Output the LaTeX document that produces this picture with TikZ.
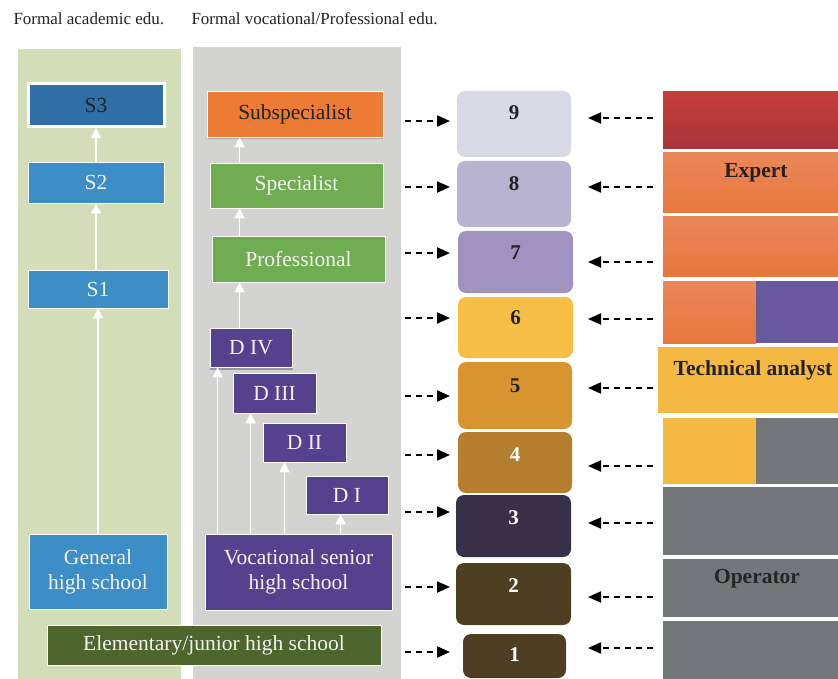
\documentclass[tikz,border=0pt]{standalone}
\usepackage{fontspec}
\setmainfont{Liberation Serif}
\usetikzlibrary{arrows.meta,calc}
\definecolor{panelgreen}{HTML}{D3DDB7}
\definecolor{panelgray}{HTML}{D3D4D2}
\definecolor{sblue}{HTML}{3D8DC6}
\definecolor{sdark}{HTML}{2F6EA6}
\definecolor{vpurple}{HTML}{55428F}
\definecolor{pgreen}{HTML}{70AC52}
\definecolor{elem}{HTML}{4E652E}
\definecolor{suborange}{HTML}{EC7B36}
\definecolor{lnine}{HTML}{D9D9E6}
\definecolor{leight}{HTML}{B8B3D1}
\definecolor{lseven}{HTML}{9E94BF}
\definecolor{lsix}{HTML}{F5BE45}
\definecolor{lfive}{HTML}{D8942F}
\definecolor{lfour}{HTML}{B47E2E}
\definecolor{lthree}{HTML}{363049}
\definecolor{ltwo}{HTML}{4E3E22}
\definecolor{bred}{HTML}{C53E3B}
\definecolor{bredd}{HTML}{A8343A}
\definecolor{borange}{HTML}{E8773D}
\definecolor{borangel}{HTML}{EA8758}
\definecolor{bpurple}{HTML}{675A9C}
\definecolor{byellow}{HTML}{F5B843}
\definecolor{bgray}{HTML}{747778}
\definecolor{txtlight}{HTML}{F2F2EE}
\definecolor{txtdark}{HTML}{222222}
\tikzset{
  edubox/.style={draw=white, line width=0.8pt, minimum width=#1, inner sep=0pt, font=\fontsize{21.5}{25}\selectfont, text=txtlight, align=center},
  levelbox/.style={rounded corners=8pt, inner sep=0pt, minimum width=#1},
  lvlnum/.style={font=\fontsize{21}{23}\selectfont\bfseries},
  warr/.style={draw=white, line width=1.6pt, -{Triangle[length=10pt,width=10pt]}},
  darr/.style={draw=black, line width=2pt, dash pattern=on 6pt off 5pt, -{Triangle[length=13pt,width=11pt]}},
  barlabel/.style={font=\fontsize{21.5}{24}\selectfont\bfseries, text=txtdark},
  header/.style={font=\fontsize{17}{19}\selectfont, text=txtdark, anchor=west}
}
\begin{document}
\begin{tikzpicture}[x=1pt,y=-1pt]
\useasboundingbox (0,0) rectangle (838,679);
\fill[white] (0,0) rectangle (838,679);
% headers
\node[header] (h1) at (10,19) {Formal academic edu.};
\node[header] (h2) at (188,19) {Formal vocational/Professional edu.};
% panels
\fill[panelgreen] (18,49) rectangle (181,679);
\fill[panelgray] (193,47) rectangle (401,679);
% academic
\node[edubox=136pt, minimum height=43pt, fill=sdark, line width=3pt, text=txtdark] (S3) at (96,105) {S3};
\node[edubox=136pt, minimum height=41pt, fill=sblue] (S2) at (96,182.5) {S2};
\node[edubox=140pt, minimum height=38pt, fill=sblue] (S1) at (98,289) {S1};
\node[edubox=138pt, minimum height=75pt, fill=sblue] (gen) at (98,571.5) {General\\high school};
% vocational
\fill[gray!70] (208,137) rectangle (383,139.5);
\node[edubox=176pt, minimum height=46pt, fill=suborange, text=txtdark] (sub) at (295,114) {Subspecialist};
\node[edubox=173pt, minimum height=45pt, fill=pgreen] (spec) at (296.5,185.5) {Specialist};
\node[edubox=173pt, minimum height=46pt, fill=pgreen] (prof) at (298.5,259) {Professional};
\fill[gray!80] (210,367) rectangle (293,369.5);
\node[edubox=82pt, minimum height=39pt, fill=vpurple] (D4) at (251,347.5) {D IV};
\node[edubox=83pt, minimum height=40pt, fill=vpurple] (D3) at (274.5,393) {D III};
\node[edubox=83pt, minimum height=39pt, fill=vpurple] (D2) at (304.5,442.5) {D II};
\node[edubox=82pt, minimum height=38pt, fill=vpurple] (D1) at (347,495) {D I};
\node[edubox=187pt, minimum height=76pt, fill=vpurple] (voc) at (298.5,572) {Vocational senior\\high school};
\node[edubox=334pt, minimum height=40pt, fill=elem] (elem) at (214,645) {Elementary/junior high school};
% white arrows
\draw[warr] (gen.north) -- (gen.north |- S1.south);
\draw[warr] (S2.south |- S1.north) -- (S2.south);
\draw[warr] (S2.north) -- (S3.south);
\draw[warr] ([xshift=8pt]D4.south west |- voc.north) -- ([xshift=8pt]D4.south west);
\draw[warr] ([xshift=18pt]D3.south west |- voc.north) -- ([xshift=18pt]D3.south west);
\draw[warr] ([xshift=22pt]D2.south west |- voc.north) -- ([xshift=22pt]D2.south west);
\draw[warr] ([xshift=35pt]D1.south west |- voc.north) -- ([xshift=35pt]D1.south west);
\draw[warr] ([xshift=28pt]prof.south west |- D4.north) -- ([xshift=28pt]prof.south west);
\draw[warr] ([xshift=30pt]spec.south west |- prof.north) -- ([xshift=30pt]spec.south west);
\draw[warr] ([xshift=33pt]sub.south west |- spec.north) -- ([xshift=33pt]sub.south west);
% levels
\node[levelbox=114pt, minimum height=66pt, fill=lnine, label={[lvlnum, text=txtdark, yshift=11pt]center:9}] (L9) at (514,124) {};
\node[levelbox=114pt, minimum height=66pt, fill=leight, label={[lvlnum, text=txtdark, yshift=10pt]center:8}] (L8) at (514,194) {};
\node[levelbox=115pt, minimum height=62pt, fill=lseven, label={[lvlnum, text=txtdark, yshift=9pt]center:7}] (L7) at (515.5,262) {};
\node[levelbox=115pt, minimum height=61pt, fill=lsix, label={[lvlnum, text=txtdark, yshift=9.5pt]center:6}] (L6) at (515.5,327.5) {};
\node[levelbox=114pt, minimum height=67pt, fill=lfive, label={[lvlnum, text=txtdark, yshift=10pt]center:5}] (L5) at (515,395.5) {};
\node[levelbox=114pt, minimum height=61pt, fill=lfour, label={[lvlnum, text=white, yshift=8pt]center:4}] (L4) at (515,462.5) {};
\node[levelbox=115pt, minimum height=62pt, fill=lthree, label={[lvlnum, text=white, yshift=8pt]center:3}] (L3) at (513.5,526) {};
\node[levelbox=115pt, minimum height=62pt, fill=ltwo, label={[lvlnum, text=white, yshift=8pt]center:2}] (L2) at (513.5,594) {};
\node[levelbox=103pt, minimum height=44pt, fill=ltwo, label={[lvlnum, text=white, yshift=1pt]center:1}] (L1) at (514.5,656) {};
% dashed arrows left
\foreach \yy in {121,187,253,318,396,455,512,587,652}
  \draw[darr] (405,\yy) -- (450,\yy);
% dashed arrows right
\foreach \yy in {118,187,262,319,388,466,523,597,648}
  \draw[darr] (653,\yy) -- (588,\yy);
% bars
\shade[top color=bred, bottom color=bredd] (663,92) rectangle (838,149);
\shade[top color=borangel, bottom color=borange] (663,153) rectangle (838,213);
\shade[top color=borangel, bottom color=borange] (663,217) rectangle (838,276);
\shade[top color=borangel, bottom color=borange] (663,281) rectangle (756,343);
\fill[bpurple] (756,281) rectangle (838,343);
\fill[byellow] (658,347) rectangle (838,413);
\fill[byellow] (663,418) rectangle (756,484);
\fill[bgray] (756,418) rectangle (838,484);
\fill[bgray] (663,487) rectangle (838,555);
\fill[bgray] (663,559) rectangle (838,617);
\fill[bgray] (663,621) rectangle (838,679);
\node[barlabel] (expert) at (756,173) {Expert};
\node[barlabel] (tech) at (753,370) {Technical analyst};
\node[barlabel, text=black!85] (oper) at (757,579) {Operator};
\end{tikzpicture}
\end{document}
